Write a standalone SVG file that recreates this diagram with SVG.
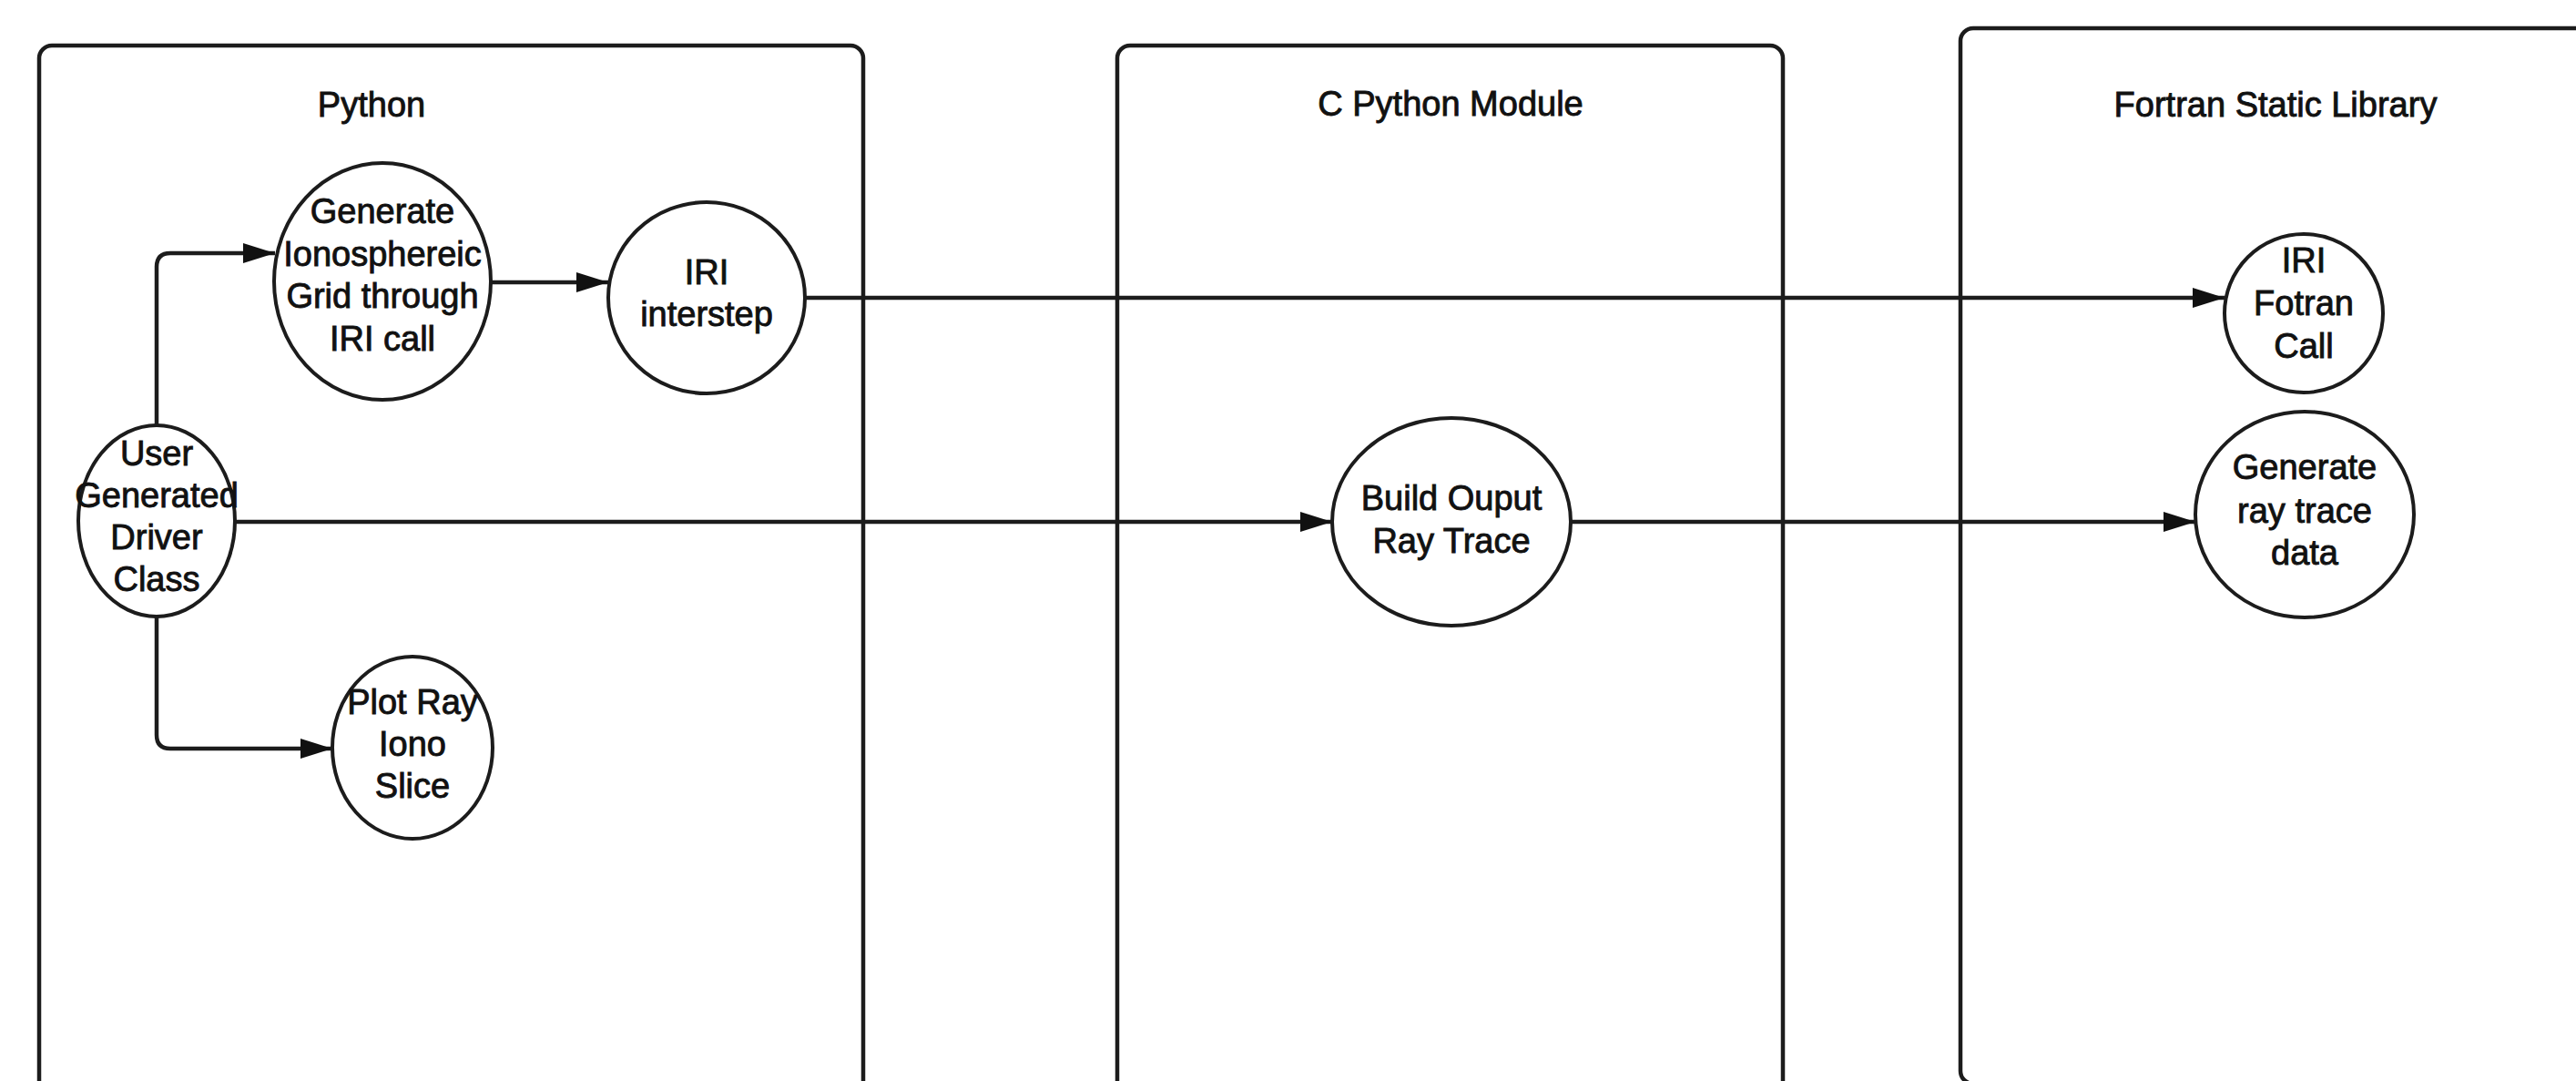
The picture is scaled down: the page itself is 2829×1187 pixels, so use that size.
<svg xmlns="http://www.w3.org/2000/svg" width="2829" height="1187" viewBox="0 0 2829 1187">
  <style>
    .box { fill: none; stroke: #1c1c1c; stroke-width: 4.5; }
    .node { fill: #ffffff; stroke: #1c1c1c; stroke-width: 4; }
    .conn { fill: none; stroke: #1c1c1c; stroke-width: 4.5; }
    text { font-family: "Liberation Sans", Arial, sans-serif; font-size: 38px; fill: #111111; stroke: #111111; stroke-width: 0.9; text-anchor: middle; }
  </style>
  <defs>
    <marker id="arrow" markerUnits="userSpaceOnUse" markerWidth="36" markerHeight="22" refX="35" refY="11" orient="auto">
      <path d="M0,0 L35,11 L0,22 Z" fill="#111111"/>
    </marker>
  </defs>
  <rect width="2829" height="1187" fill="#ffffff"/>

  <g id="lane-python">
    <rect class="box" x="43" y="50" width="905" height="1200" rx="14"/>
    <text x="408" y="128">Python</text>
  </g>
  <g id="lane-cmodule">
    <rect class="box" x="1227" y="50" width="731" height="1200" rx="14"/>
    <text x="1593" y="127">C Python Module</text>
  </g>
  <g id="lane-fortran">
    <rect class="box" x="2153" y="31" width="800" height="1159" rx="14"/>
    <text x="2499" y="128">Fortran Static Library</text>
  </g>

  <g id="connectors">
    <path class="conn" d="M172,468 V293 Q172,278 187,278 H302" marker-end="url(#arrow)"/>
    <path class="conn" d="M539,310 H668" marker-end="url(#arrow)"/>
    <path class="conn" d="M885,327 H2443" marker-end="url(#arrow)"/>
    <path class="conn" d="M258,573 H1463" marker-end="url(#arrow)"/>
    <path class="conn" d="M1725,573 H2411" marker-end="url(#arrow)"/>
    <path class="conn" d="M172,677 V807 Q172,822 187,822 H365" marker-end="url(#arrow)"/>
  </g>

  <g id="node-user">
    <ellipse class="node" cx="172" cy="572" rx="86" ry="105"/>
    <text x="172" y="511">User</text>
    <text x="172" y="557">Generated</text>
    <text x="172" y="603">Driver</text>
    <text x="172" y="649">Class</text>
  </g>
  <g id="node-generate-grid">
    <ellipse class="node" cx="420" cy="309" rx="119" ry="130"/>
    <text x="420" y="245">Generate</text>
    <text x="420" y="292">Ionosphereic</text>
    <text x="420" y="338">Grid through</text>
    <text x="420" y="385">IRI call</text>
  </g>
  <g id="node-iri-interstep">
    <ellipse class="node" cx="776" cy="327" rx="108" ry="105"/>
    <text x="776" y="312">IRI</text>
    <text x="776" y="358">interstep</text>
  </g>
  <g id="node-plot-ray">
    <ellipse class="node" cx="453" cy="821" rx="88" ry="100"/>
    <text x="453" y="784">Plot Ray</text>
    <text x="453" y="830">Iono</text>
    <text x="453" y="876">Slice</text>
  </g>
  <g id="node-build-output">
    <ellipse class="node" cx="1594" cy="573" rx="131" ry="114"/>
    <text x="1594" y="560">Build Ouput</text>
    <text x="1594" y="607">Ray Trace</text>
  </g>
  <g id="node-iri-fortran">
    <ellipse class="node" cx="2530" cy="344" rx="87" ry="87"/>
    <text x="2530" y="299">IRI</text>
    <text x="2530" y="346">Fotran</text>
    <text x="2530" y="393">Call</text>
  </g>
  <g id="node-generate-raytrace">
    <ellipse class="node" cx="2531" cy="565" rx="120" ry="113"/>
    <text x="2531" y="526">Generate</text>
    <text x="2531" y="574">ray trace</text>
    <text x="2531" y="620">data</text>
  </g>
</svg>
